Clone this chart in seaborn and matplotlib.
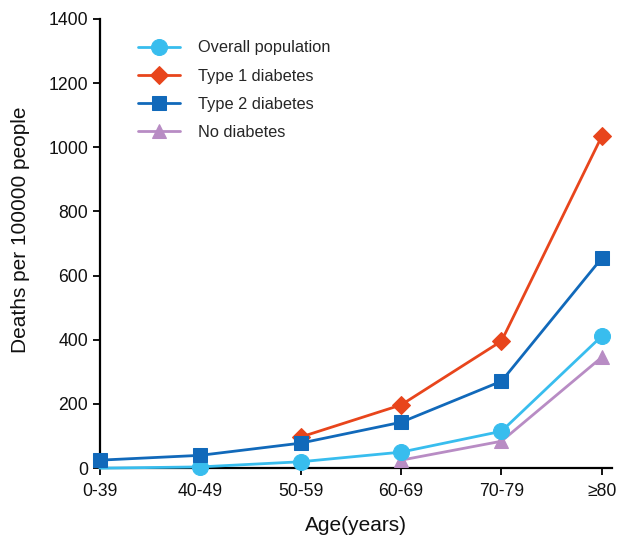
import numpy as np
import pandas as pd
import matplotlib
matplotlib.use("Agg")
import matplotlib.pyplot as plt
import seaborn as sns

categories = ["0-39", "40-49", "50-59", "60-69", "70-79", "\u226580"]
overall = [0, 4, 20, 50, 115, 412]
type1 = [np.nan, np.nan, 97, 197, 396, 1035]
type2 = [25, 40, 78, 143, 271, 655]
no_diabetes = [np.nan, np.nan, np.nan, 25, 84, 346]

series_names = ["Overall population", "Type 1 diabetes", "Type 2 diabetes", "No diabetes"]
series_values = [overall, type1, type2, no_diabetes]
colors = ["#38BDEE", "#E8451C", "#1169BA", "#B88CC4"]
markers = ["o", "D", "s", "^"]
msizes = [11.5, 9.5, 9.5, 10.5]

sns.set_theme(style="ticks")
plt.rcParams["font.family"] = ["Liberation Sans", "DejaVu Sans"]

fig = plt.figure(figsize=(6.2, 5.4), dpi=100)
ax = fig.add_axes([0.161, 0.133, 0.826, 0.832])

draw_order = [3, 0, 1, 2]
for i in draw_order:
    df = pd.DataFrame({"x": np.arange(len(categories)), "y": series_values[i]}).dropna()
    kw = {}
    if i == 0:
        kw["markevery"] = list(range(1, len(df)))
    sns.lineplot(data=df, x="x", y="y", ax=ax, color=colors[i], marker=markers[i],
                 markersize=msizes[i], markeredgecolor=colors[i], linewidth=2,
                 label=series_names[i], clip_on=False, zorder=3 + draw_order.index(i), **kw)

h, l = ax.get_legend_handles_labels()
hd = dict(zip(l, h))
leg = ax.legend([hd[n] for n in series_names], series_names, loc="upper left",
                bbox_to_anchor=(0.045, 0.985), frameon=False, fontsize=11.8,
                handlelength=2.6, handletextpad=1.1, labelspacing=0.8)

ax.set_xlim(0, 5.1)
ax.set_ylim(0, 1400)
ax.set_yticks(np.arange(0, 1401, 200))
ax.set_xticks(np.arange(len(categories)))
ax.set_xticklabels(categories)
ax.tick_params(axis="both", labelsize=12.7, length=5, width=1.3, color="black", direction="out", labelcolor="#111111")
ax.tick_params(axis="x", pad=6)
for s in ["top", "right"]:
    ax.spines[s].set_visible(False)
for s in ["left", "bottom"]:
    ax.spines[s].set_color("black")
    ax.spines[s].set_linewidth(1.6)
ax.set_xlabel("Age(years)", fontsize=15, labelpad=11, color="#111111")
ax.set_ylabel("Deaths per 100000 people", fontsize=15, color="#111111")
ax.yaxis.set_label_coords(-0.136, 0.53)

fig.savefig("out.png", dpi=100)
